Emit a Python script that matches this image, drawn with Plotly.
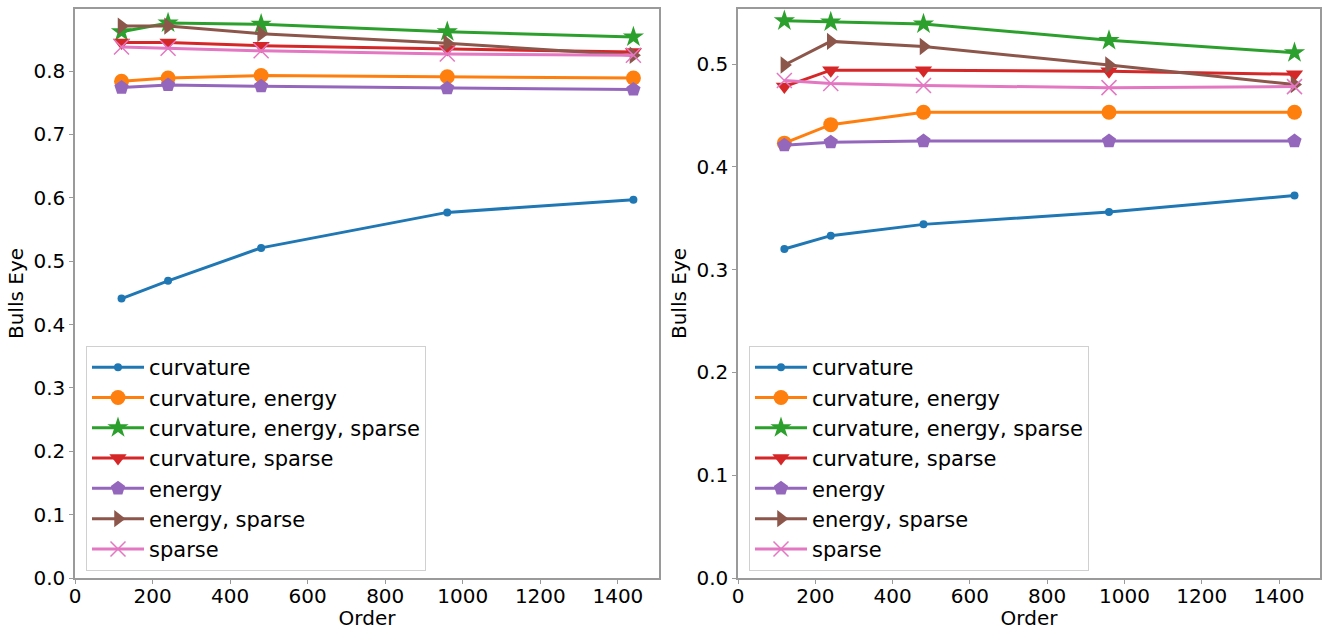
import plotly.graph_objects as go

order = [120, 240, 480, 960, 1440]
names = ["curvature", "curvature, energy", "curvature, energy, sparse",
         "curvature, sparse", "energy", "energy, sparse", "sparse"]

# left panel
left_curv = [0.441, 0.469, 0.521, 0.577, 0.597]
left_curv_energy = [0.784, 0.789, 0.793, 0.791, 0.789]
left_curv_energy_sparse = [0.862, 0.876, 0.874, 0.862, 0.854]
left_curv_sparse = [0.845, 0.845, 0.840, 0.835, 0.830]
left_energy = [0.774, 0.778, 0.776, 0.773, 0.771]
left_energy_sparse = [0.871, 0.871, 0.859, 0.844, 0.825]
left_sparse = [0.838, 0.836, 0.832, 0.827, 0.825]

# right panel
right_curv = [0.320, 0.333, 0.344, 0.356, 0.372]
right_curv_energy = [0.423, 0.441, 0.453, 0.453, 0.453]
right_curv_energy_sparse = [0.542, 0.541, 0.539, 0.523, 0.511]
right_curv_sparse = [0.478, 0.494, 0.494, 0.493, 0.490]
right_energy = [0.421, 0.424, 0.425, 0.425, 0.425]
right_energy_sparse = [0.499, 0.522, 0.517, 0.499, 0.480]
right_sparse = [0.484, 0.481, 0.479, 0.477, 0.478]

left_series = [left_curv, left_curv_energy, left_curv_energy_sparse, left_curv_sparse,
               left_energy, left_energy_sparse, left_sparse]
right_series = [right_curv, right_curv_energy, right_curv_energy_sparse, right_curv_sparse,
                right_energy, right_energy_sparse, right_sparse]

x_ticks = [0, 200, 400, 600, 800, 1000, 1200, 1400]
left_y_ticks = [0.0, 0.1, 0.2, 0.3, 0.4, 0.5, 0.6, 0.7, 0.8]
right_y_ticks = [0.0, 0.1, 0.2, 0.3, 0.4, 0.5]

colors = ["#1f77b4", "#ff7f0e", "#2ca02c", "#d62728", "#9467bd", "#8c564b", "#e377c2"]
symbols = ["circle", "circle", "star", "triangle-down", "pentagon", "triangle-right", "x-thin"]
sizes = [8, 15, 16, 15, 15, 15, 15]

FONT = "DejaVu Sans"
FS = 20
fig = go.Figure()

for panel, series, xa, ya, lg in [(0, left_series, "x", "y", "legend"),
                                  (1, right_series, "x2", "y2", "legend2")]:
    for i, (name, vals) in enumerate(zip(names, series)):
        marker = dict(symbol=symbols[i], size=sizes[i], color=colors[i])
        if symbols[i] == "x-thin":
            marker["line"] = dict(color=colors[i], width=1.5)
        else:
            marker["line"] = dict(width=0)
        fig.add_trace(go.Scatter(
            x=order, y=vals, name=name, mode="lines+markers",
            line=dict(color=colors[i], width=3), marker=marker,
            xaxis=xa, yaxis=ya, legend=lg, legendgroup=f"{panel}_{i}",
        ))

frame = "#9a9a9a"
axis_common = dict(showline=True, linecolor=frame, linewidth=1.5, mirror=True,
                   ticks="outside", ticklen=4, tickcolor=frame, showgrid=False,
                   zeroline=False, tickfont=dict(family=FONT, size=FS, color="#000"),
                   automargin=False)

xdom_l = [75 / 1322, 659 / 1322]
xdom_r = [738 / 1322, 1320 / 1322]
ydom = [(630 - 578) / 630, (630 - 9) / 630]

leg_common = dict(xanchor="left", yanchor="top",
                  bgcolor="rgba(255,255,255,0.85)", bordercolor="#d0d0d0", borderwidth=1,
                  font=dict(family=FONT, size=21, color="#000"), tracegroupgap=0,
                  itemwidth=52, traceorder="grouped")

fig.update_layout(
    width=1322, height=630,
    margin=dict(l=0, r=0, t=0, b=0),
    plot_bgcolor="white", paper_bgcolor="white",
    font=dict(family=FONT, size=FS, color="#000"),
    xaxis=dict(domain=xdom_l, range=[0, 1506], tickvals=x_ticks, anchor="y",
               ticklabelstandoff=-5,
               title=dict(text="Order", standoff=6, font=dict(family=FONT, size=FS)),
               **axis_common),
    yaxis=dict(domain=ydom, range=[0, 0.898], tickvals=left_y_ticks, tickformat=".1f",
               anchor="x",
               title=dict(text="Bulls Eye", standoff=4, font=dict(family=FONT, size=FS)),
               **axis_common),
    xaxis2=dict(domain=xdom_r, range=[0, 1506], tickvals=x_ticks, anchor="y2",
                ticklabelstandoff=-5,
                title=dict(text="Order", standoff=6, font=dict(family=FONT, size=FS)),
                **axis_common),
    yaxis2=dict(domain=ydom, range=[0, 0.5535], tickvals=right_y_ticks, tickformat=".1f",
                anchor="x2",
                title=dict(text="Bulls Eye", standoff=4, font=dict(family=FONT, size=FS)),
                **axis_common),
    legend=dict(x=86 / 1322, y=(630 - 346) / 630, **leg_common),
    legend2=dict(x=749 / 1322, y=(630 - 346) / 630, **leg_common),
)

fig.write_html(
    "out.html",
    config={"displayModeBar": False},
    post_script="document.body.style.margin='0px';document.body.style.overflow='hidden';",
)
